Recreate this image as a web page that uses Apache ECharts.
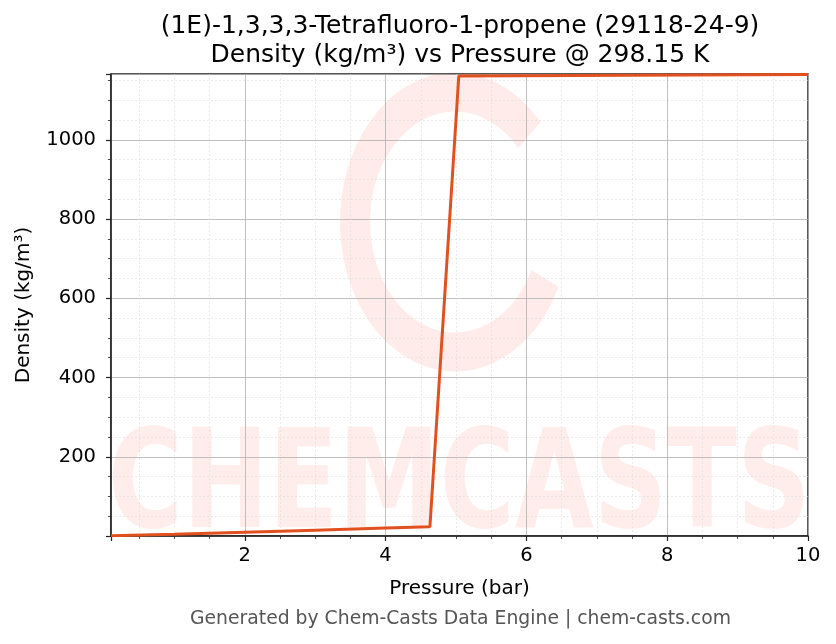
<!DOCTYPE html>
<html><head><meta charset="utf-8">
<script src="https://cdn.jsdelivr.net/npm/echarts@6/dist/echarts.min.js"></script>
<style>html,body{margin:0;padding:0;background:#fff}#c{width:836px;height:644px}</style>
</head><body><div id="c"></div>
<script>
const titleLines = ['(1E)-1,3,3,3-Tetrafluoro-1-propene (29118-24-9)', 'Density (kg/m³) vs Pressure @ 298.15 K'];
const xLabel = 'Pressure (bar)';
const yLabel = 'Density (kg/m³)';
const footer = 'Generated by Chem-Casts Data Engine | chem-casts.com';
const pressure = [0.1, 1, 2, 3, 4, 4.63, 5.04, 10];
const density = [0.5, 4.7, 9.6, 14.8, 20.3, 23.5, 1161, 1165];
const xRange = [0.1, 10];
const yRange = [0, 1166];

const font = 'DejaVu Sans';
const chart = echarts.init(document.getElementById('c'), null, {renderer: 'canvas'});
const axisCommon = {
  axisLine: {show: true, onZero: false, lineStyle: {color: '#222', width: 1.5}},
  axisTick: {show: true, length: 5, inside: false, lineStyle: {color: '#222', width: 1.2}},
  minorTick: {show: true, splitNumber: 4, length: 3, lineStyle: {color: '#222', width: 0.8}},
  axisLabel: {color: '#000', fontFamily: font, fontSize: 19.5, showMinLabel: false, showMaxLabel: false, formatter: v => String(v)},
  splitLine: {show: true, lineStyle: {color: '#b0b0b0', width: 0.8}},
  minorSplitLine: {show: true, lineStyle: {color: '#dedede', width: 0.6, type: [2, 2]}},
  nameLocation: 'middle',
  nameTextStyle: {color: '#000', fontFamily: font, fontSize: 20}
};
chart.setOption({
  animation: false,
  backgroundColor: '#fff',
  title: {
    text: titleLines.join('\n'), left: 455, top: 7, textAlign: 'center',
    textStyle: {fontFamily: font, fontSize: 25, fontWeight: 'normal', color: '#000', lineHeight: 29}
  },
  grid: {left: 111, right: 28, top: 74, bottom: 108, show: true, borderColor: '#222', borderWidth: 1.5, backgroundColor: 'transparent'},
  xAxis: Object.assign({}, axisCommon, {
    type: 'value', min: xRange[0], max: xRange[1], splitNumber: 5,
    name: xLabel, nameGap: 43,
    axisLabel: Object.assign({}, axisCommon.axisLabel, {margin: 10, showMaxLabel: true})
  }),
  yAxis: Object.assign({}, axisCommon, {
    type: 'value', min: yRange[0], max: yRange[1], interval: 200,
    name: yLabel, nameGap: 77,
    axisLabel: Object.assign({}, axisCommon.axisLabel, {margin: 15})
  }),
  graphic: [
    {type: 'arc', z: -10, x: 455, y: 222, scaleY: 1.3,
     shape: {cx: 0, cy: 0, r: 100, startAngle: 0.45, endAngle: 5.55, clockwise: true},
     style: {stroke: 'rgba(255,90,70,0.12)', lineWidth: 30, fill: null}},
    {type: 'text', z: -10, left: 108, top: 422, scaleX: 0.74,
     style: {text: 'CHEMCASTS', fontFamily: font, fontWeight: 'bold', fontSize: 138, fill: 'rgba(255,90,70,0.11)'}},
    {type: 'text', left: 190, top: 610,
     style: {text: footer, fontFamily: font, fontSize: 18.8, fill: '#555'}}
  ],
  series: [{
    type: 'line', data: pressure.map((p, i) => [p, density[i]]),
    showSymbol: false, symbol: 'none',
    lineStyle: {color: '#e0511f', width: 3},
    clip: true
  }]
});
</script></body></html>
